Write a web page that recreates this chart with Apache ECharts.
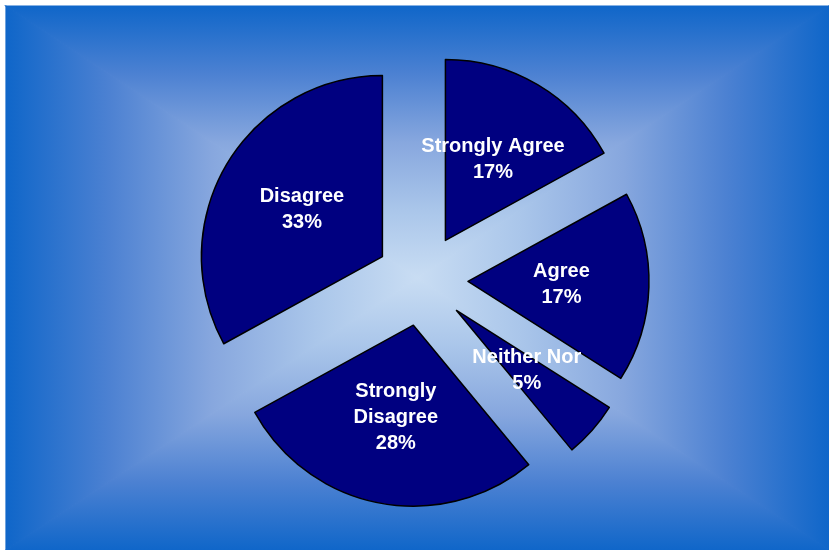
<!DOCTYPE html>
<html>
<head>
<meta charset="utf-8">
<script src="https://cdn.jsdelivr.net/npm/echarts@6/dist/echarts.min.js"></script>
<style>
  html, body { margin: 0; padding: 0; background: #ffffff; }
  #chart { width: 829px; height: 550px; }
</style>
</head>
<body>
<div id="chart"></div>
<script>
// Survey responses, clockwise from 12 o'clock
const categories = ['Strongly Agree', 'Agree', 'Neither Nor', 'Strongly Disagree', 'Disagree'];
const labelLines = ['Strongly Agree', 'Agree', 'Neither Nor', 'Strongly\nDisagree', 'Disagree'];
const shares = [17, 17, 5, 28, 33];

const chart = echarts.init(document.getElementById('chart'), null, { renderer: 'canvas' });

// Box-shaped "from centre" background: four triangles, each shaded from its edge toward the middle
const bx0 = 6, by0 = 6, bx1 = 829, by1 = 550;
const mx = (bx0 + bx1) / 2, my = (by0 + by1) / 2;
const bgStops = [
  { offset: 0, color: '#0f66c9' },
  { offset: 0.25, color: '#4c81d2' },
  { offset: 0.5, color: '#87a7de' },
  { offset: 0.75, color: '#aac6ea' },
  { offset: 1, color: '#c9ddf3' }
];
function tri(points, x, y, x2, y2) {
  const g = new echarts.graphic.LinearGradient(x, y, x2, y2, bgStops);
  return {
    type: 'polygon',
    silent: true,
    z: -10,
    shape: { points: points },
    style: { fill: g, stroke: g, lineWidth: 1.2 }
  };
}

// The thin slice cannot hold its caption inside the wedge, so its caption is
// an outside label pulled back into the middle of the wedge.
const thinLabel = {
  position: 'outside',
  alignTo: 'none',
  distanceToLabelLine: 2
};
const thinLine = { show: false, length: -90, length2: 0 };

const data = categories.map((name, i) => {
  const item = {
    name: name,
    value: shares[i],
    selected: true,
    label: { formatter: labelLines[i] + '\n' + shares[i] + '%' }
  };
  if (shares[i] < 10) {
    Object.assign(item.label, thinLabel);
    item.labelLine = thinLine;
  }
  return item;
});

chart.setOption({
  animation: false,
  graphic: [
    tri([[bx0, by0], [bx0, by1], [mx, my]], 0, 0, 1, 0),
    tri([[bx1, by0], [bx1, by1], [mx, my]], 1, 0, 0, 0),
    tri([[bx0, by0], [bx1, by0], [mx, my]], 0, 0, 0, 1),
    tri([[bx0, by1], [bx1, by1], [mx, my]], 0, 1, 0, 0)
  ],
  series: [{
    type: 'pie',
    center: [422, 280],
    radius: [0, 181],
    startAngle: 90,
    clockwise: true,
    selectedMode: 'multiple',
    selectedOffset: 46,
    avoidLabelOverlap: false,
    itemStyle: { color: '#000080', borderColor: '#000000', borderWidth: 1.5 },
    emphasis: { disabled: true },
    label: {
      show: true,
      position: 'inside',
      align: 'center',
      color: '#ffffff',
      fontFamily: 'Liberation Sans, Arial, sans-serif',
      fontWeight: 'bold',
      fontSize: 20,
      lineHeight: 26
    },
    // every caption is centred on its anchor point
    labelLayout: function () {
      return { align: 'center' };
    },
    labelLine: { show: false },
    data: data
  }]
});
</script>
</body>
</html>
